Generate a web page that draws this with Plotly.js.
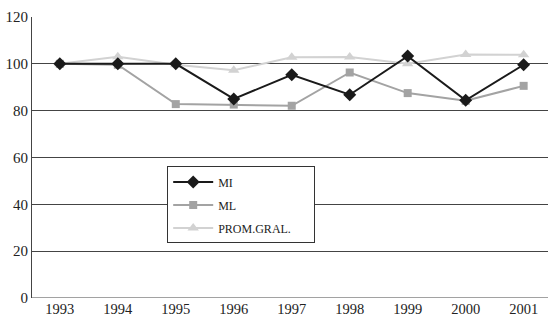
<!DOCTYPE html>
<html><head><meta charset="utf-8">
<script src="https://cdn.plot.ly/plotly-3.0.1.min.js"></script>
<style>html,body{margin:0;padding:0;background:#fff}#c{width:548px;height:318px}</style>
</head><body><div id="c"></div>
<script>
const years = ['1993','1994','1995','1996','1997','1998','1999','2000','2001'];
const mi = [100, 100, 100, 85, 95.3, 86.8, 103.3, 84.4, 99.6];
const ml = [100, 99.6, 82.8, 82.6, 82.1, 96.3, 87.5, 84.2, 90.6];
const prom = [100, 103, 99.6, 97.3, 102.8, 102.9, 100, 104, 103.9];
const seriesNames = ['MI', 'ML', 'PROM.GRAL.'];
const yTicks = [0, 20, 40, 60, 80, 100, 120];
const pad = '\u00a0\u00a0\u00a0\u00a0\u00a0\u00a0';

const traces = [
  {x: years, y: prom, name: seriesNames[2] + pad, legendgroup: 'c', legendrank: 3, mode: 'lines+markers', line: {color: '#d2d2d2', width: 2}, marker: {symbol: 'triangle-up', size: 10, color: '#d2d2d2'}},
  {x: years, y: ml, name: seriesNames[1], legendgroup: 'b', legendrank: 2, mode: 'lines+markers', line: {color: '#a3a3a3', width: 2}, marker: {symbol: 'square', size: 8, color: '#a3a3a3'}},
  {x: years, y: mi, name: seriesNames[0], legendgroup: 'a', legendrank: 1, mode: 'lines+markers', line: {color: '#1a1a1a', width: 2}, marker: {symbol: 'diamond', size: 10, color: '#1a1a1a'}}
];

const layout = {
  width: 548, height: 318,
  margin: {l: 32, r: 0, t: 17, b: 20},
  paper_bgcolor: '#fff', plot_bgcolor: '#fff',
  font: {family: 'Liberation Serif, Times New Roman, serif', color: '#222', size: 14},
  showlegend: true,
  legend: {
    x: 0.262, y: 0.468, xanchor: 'left', yanchor: 'top',
    traceorder: 'grouped',
    bgcolor: '#fff', bordercolor: '#333', borderwidth: 1,
    font: {family: 'Liberation Serif, serif', size: 12, color: '#222'},
    itemwidth: 40, tracegroupgap: 4
  },
  xaxis: {
    type: 'category', range: [-0.48, 8.42],
    showgrid: false, zeroline: false,
    showline: false, ticks: '',
    tickfont: {size: 14.5, color: '#222'}
  },
  yaxis: {
    range: [0, 120], tickvals: yTicks, ticktext: yTicks.map(String),
    showgrid: true, gridcolor: '#444', gridwidth: 1,
    zeroline: false, showline: true, linecolor: '#444', linewidth: 1,
    ticks: '', ticklen: 0,
    tickfont: {size: 15, color: '#222'}
  },
  shapes: [
    {type: 'rect', xref: 'paper', yref: 'paper', x0: 0.254, x1: 0.548, y0: 0.2, y1: 0.48, fillcolor: '#fff', line: {width: 0}, layer: 'between'},
    {type: 'line', xref: 'paper', yref: 'y', x0: 0, x1: 1, y0: 0, y1: 0, line: {color: '#444', width: 1}, layer: 'between'}
  ]
};
Plotly.newPlot('c', traces, layout, {displayModeBar: false, staticPlot: true});
</script>
</body></html>
